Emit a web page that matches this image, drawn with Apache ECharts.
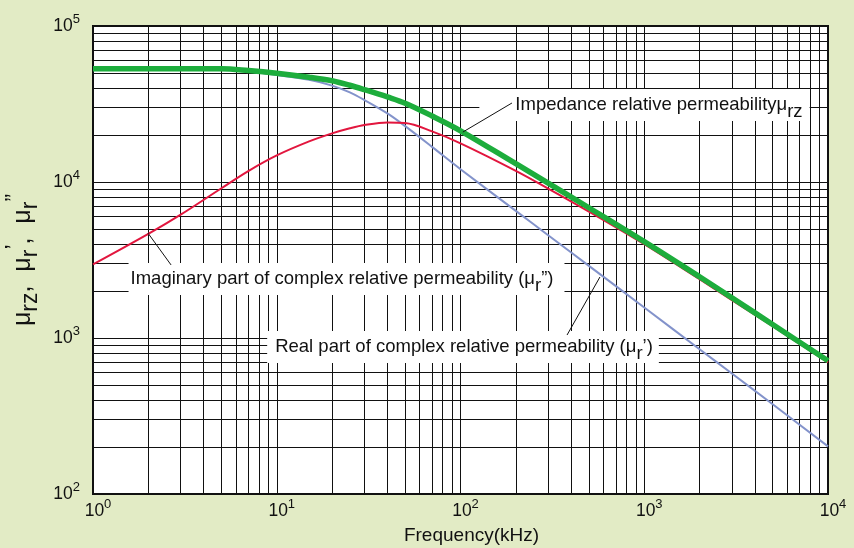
<!DOCTYPE html>
<html><head><meta charset="utf-8">
<script src="https://cdn.jsdelivr.net/npm/echarts@6/dist/echarts.min.js"></script>
<style>html,body{margin:0;padding:0;background:#e2ebc5}#c{width:854px;height:548px}</style>
</head><body><div id="c"></div>
<script>
// ---- data ----
const freq      = [1, 2, 3, 5, 7, 10, 15, 20, 25, 30, 40, 50, 70, 100, 200, 300, 500, 1000, 2000, 3000, 5000, 10000];
const impedance = [53300, 53300, 53300, 53200, 51800, 49800, 47000, 44600, 41700, 39100, 35100, 32000, 26500, 21300, 13100, 9840, 6840, 4150, 2470, 1810, 1220, 715];
const imagPart  = [2960, 4645, 6170, 9120, 11750, 14800, 18200, 20500, 22100, 23200, 24100, 23900, 21100, 17700, 11800, 9080, 6460, 3990, 2380, 1750, 1190, 697];
const realPart  = [52800, 52800, 52800, 52700, 51000, 48500, 45200, 41500, 37500, 33500, 27500, 22800, 16800, 12080, 6530, 4560, 2900, 1570, 847, 592, 376, 202];
const xExponents = [0, 1, 2, 3, 4];
const yExponents = [2, 3, 4, 5];
const minorMult  = [2, 3, 4, 5, 6, 7, 8, 9];
const labelImpedance = 'Impedance relative permeability';
const labelImag = 'Imaginary part of complex relative permeability (';
const labelReal = 'Real part of complex relative permeability (';
const xName = 'Frequency(kHz)';

const FONT = "'Liberation Sans', Arial, Helvetica, sans-serif";
const INK = '#111';

function pairs(ys) { return freq.map((f, i) => [f, ys[i]]); }

// minor grid lines (2..9 x each decade)
const gridLines = [];
xExponents.slice(0, -1).forEach(e => minorMult.forEach(m => gridLines.push({ xAxis: m * Math.pow(10, e) })));
yExponents.slice(0, -1).forEach(e => minorMult.forEach(m => gridLines.push({ yAxis: m * Math.pow(10, e) })));

function expLabel(v) {
  const e = Math.round(Math.log10(v));
  return '{b|10}{p|' + e + '}';
}
const tickRich = {
  b: { fontSize: 17.5, fontFamily: FONT, color: INK, lineHeight: 26, verticalAlign: 'middle' },
  p: { fontSize: 13, fontFamily: FONT, color: INK, lineHeight: 26, verticalAlign: 'top' }
};
const boxRich = {
  t: { fontSize: 18.5, fontFamily: FONT, color: INK, lineHeight: 22 },
  s: { fontSize: 18.5, fontFamily: FONT, color: INK, lineHeight: 32, verticalAlign: 'bottom' }
};

const chart = echarts.init(document.getElementById('c'), null, { renderer: 'canvas' });
chart.setOption({
  animation: false,
  backgroundColor: '#e2ebc5',
  grid: { left: 93, right: 26, top: 26, bottom: 54, outerBoundsMode: 'none', containLabel: false,
          show: true, backgroundColor: '#fff', borderColor: INK, borderWidth: 2 },
  xAxis: {
    type: 'log', logBase: 10, min: 1, max: 10000,
    axisLine: { show: true, lineStyle: { color: INK, width: 2 } },
    axisTick: { show: false },
    splitLine: { show: true, lineStyle: { color: INK, width: 1 } },
    axisLabel: { formatter: expLabel, margin: 4, padding: [0, 0, 0, 10], rich: tickRich },
    name: xName, nameLocation: 'middle', nameGap: 32,
    nameTextStyle: { fontSize: 19, fontFamily: FONT, color: INK, padding: [0, 0, 0, 22] }
  },
  yAxis: {
    type: 'log', logBase: 10, min: 100, max: 100000,
    axisLine: { show: true, lineStyle: { color: INK, width: 2 } },
    axisTick: { show: false },
    splitLine: { show: true, lineStyle: { color: INK, width: 1 } },
    axisLabel: { formatter: expLabel, margin: 13, rich: tickRich },
    name: '{m|μ}{s|rz}{m|,  μ}{s|r}{q|’}{m|,  μ}{s|r}{q|”}',
    nameLocation: 'middle', nameRotate: 90, nameGap: 48,
    nameTextStyle: {
      rich: {
        m: { fontSize: 25, fontFamily: FONT, color: INK, lineHeight: 30, verticalAlign: 'middle' },
        s: { fontSize: 23, fontFamily: FONT, color: INK, lineHeight: 38, verticalAlign: 'bottom' },
        q: { fontSize: 23, fontFamily: FONT, color: INK, lineHeight: 38, verticalAlign: 'top' }
      }
    }
  },
  series: [
    {
      name: 'real', type: 'line', data: pairs(realPart), symbol: 'none',
      smooth: 0.35,
      lineStyle: { color: '#8393cb', width: 2 }, z: 2,
      markLine: {
        silent: true, symbol: 'none', z: 1, animation: false,
        label: { show: false }, emphasis: { disabled: true },
        lineStyle: { color: INK, width: 1, type: 'solid' },
        data: gridLines
      }
    },
    {
      name: 'imag', type: 'line', data: pairs(imagPart), symbol: 'none',
      smooth: 0.35,
      lineStyle: { color: '#e2163e', width: 2 }, z: 2,
      markLine: {
        silent: true, symbol: 'none', z: 7, animation: false,
        label: { show: false }, emphasis: { disabled: true },
        lineStyle: { color: INK, width: 1, type: 'solid' },
        data: [
          [{ coord: [103, 20900] }, { coord: [190.6, 32100] }],
          [{ coord: [1.99, 4710] }, { coord: [2.66, 2940] }],
          [{ coord: [574, 2460] }, { coord: [380, 1045] }]
        ]
      }
    },
    {
      name: 'impedance', type: 'line', data: pairs(impedance), symbol: 'none',
      smooth: 0.35,
      lineStyle: { color: '#1dad3c', width: 5.5 }, z: 3,
      markPoint: {
        silent: true, symbol: 'rect', symbolSize: 1, z: 6, animation: false,
        itemStyle: { color: 'rgba(0,0,0,0)' },
        label: { show: true, position: 'inside', backgroundColor: '#fff', rich: boxRich },
        data: [
          { coord: [1003, 31160], label: { formatter: '{t|' + labelImpedance + 'μ}{s|rz}', padding: [0, 7, 0, 36] } },
          { coord: [23.97, 2390], label: { formatter: '{t|' + labelImag + 'μ}{s|r}{t|”)}', padding: [0, 11, 0, 2] } },
          { coord: [103.2, 875], label: { formatter: '{t|' + labelReal + 'μ}{s|r}{t|’)}', padding: [0, 6, 0, 8] } }
        ]
      }
    }
  ]
});
</script>
</body></html>
